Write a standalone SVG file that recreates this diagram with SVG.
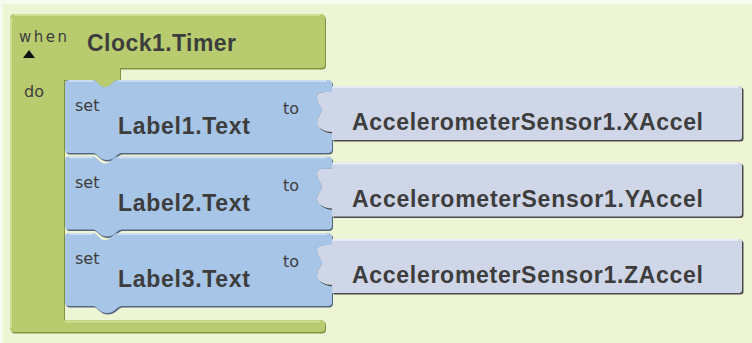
<svg xmlns="http://www.w3.org/2000/svg" xmlns:xlink="http://www.w3.org/1999/xlink" width="752" height="343" viewBox="0 0 752 343">
<style>
.big{font-family:"Liberation Sans",Arial,sans-serif;font-weight:bold;font-size:23px;fill:#3d3d3d}
.small{font-family:"DejaVu Sans","Liberation Sans",sans-serif;font-size:16px;fill:#3d3d3d}
.bluefill{fill:#a7c5e7}
.blueshadow{fill:#54677f}
.grayfill{fill:#ced6e7}
.grayshadow{fill:#4a4a4a}
.hlb{stroke:#d5e4f5;stroke-width:1.5;fill:none}
.hlg{stroke:#eef2f9;stroke-width:1.5;fill:none}
</style>
<defs>
<path id="setShape" d="M4,0 H28 C32,0 34,7 40,7 C46,7 48,0 53,0 H263 Q267,0 267,4 V12 C262,12 252,11 252,17 C252,23 256,25 257,30 C256,35 252,37 252,43 C252,49 262,52 267,52 V69 Q267,73 263,73 H57 C52,73 50,80 42,80 C34,80 32,73 28,73 H4 Q0,73 0,69 V4 Q0,0 4,0 Z"/>
<path id="valShape" d="M0,0 H407 Q410,0 410,3 V51 Q410,54 407,54 H0 V46 C-5,46 -15,43 -15,37 C-15,31 -11,29 -10,24 C-11,19 -15,17 -15,11 C-15,5 -5,6 0,6 Z"/>
<g id="setBlock">
<use xlink:href="#setShape" class="blueshadow" transform="translate(1,1.5)"/>
<use xlink:href="#setShape" class="bluefill"/>
<path class="hlb" d="M4,1 H28 M53,1 H262"/>
</g>
<g id="valBlock">
<use xlink:href="#valShape" class="grayshadow" transform="translate(1.5,1.5)"/>
<use xlink:href="#valShape" class="grayfill"/>
<path class="hlg" d="M1,1 H406"/>
</g>
</defs>
<rect x="0" y="0" width="752" height="343" fill="#eef5d4"/>
<rect x="0" y="0" width="752" height="4" fill="#f7faee"/>
<rect x="0" y="0" width="3" height="343" fill="#f7faee"/>

<g id="event">
<path d="M14,14 H321 Q325,14 325,18 V64 Q325,68 321,68 H120 V80 H118 C113,80 111,87 105,87 C99,87 97,80 93,80 H64 V320 H321 Q325,320 325,324 V328 Q325,332 321,332 H14 Q10,332 10,328 V18 Q10,14 14,14 Z" fill="#7f9442" transform="translate(1,1.5)"/>
<path d="M14,14 H321 Q325,14 325,18 V64 Q325,68 321,68 H120 V80 H118 C113,80 111,87 105,87 C99,87 97,80 93,80 H64 V320 H321 Q325,320 325,324 V328 Q325,332 321,332 H14 Q10,332 10,328 V18 Q10,14 14,14 Z" fill="#b8cc6f"/>
<path d="M14,15 H320 M11,18 V328 M65,321.5 H320" stroke="#d6e4a0" stroke-width="1.5" fill="none"/>
<text class="small" x="19" y="42" style="font-size:15px" textLength="48" lengthAdjust="spacing">when</text>
<polygon points="23,58 29,50 35,58" fill="#111"/>
<text class="big" x="87" y="51" textLength="149" lengthAdjust="spacing">Clock1.Timer</text>
<text class="small" x="24" y="97">do</text>
</g>

<g id="connectors"/>

<g id="set1" transform="translate(65,80)">
<use xlink:href="#setBlock"/>
<text class="small" x="10" y="31">set</text>
<text class="big" x="53" y="54" textLength="132" lengthAdjust="spacing">Label1.Text</text>
<text class="small" x="218" y="34">to</text>
</g>
<g id="val1" transform="translate(332,86)">
<use xlink:href="#valBlock"/>
<text class="big" x="20" y="44" textLength="351" lengthAdjust="spacing">AccelerometerSensor1.XAccel</text>
</g>

<g id="set2" transform="translate(65,156.5)">
<use xlink:href="#setBlock"/>
<text class="small" x="10" y="31">set</text>
<text class="big" x="53" y="54" textLength="132" lengthAdjust="spacing">Label2.Text</text>
<text class="small" x="218" y="34">to</text>
</g>
<g id="val2" transform="translate(332,162.5)">
<use xlink:href="#valBlock"/>
<text class="big" x="20" y="44" textLength="351" lengthAdjust="spacing">AccelerometerSensor1.YAccel</text>
</g>

<g id="set3" transform="translate(65,233)">
<use xlink:href="#setBlock"/>
<text class="small" x="10" y="31">set</text>
<text class="big" x="53" y="54" textLength="132" lengthAdjust="spacing">Label3.Text</text>
<text class="small" x="218" y="34">to</text>
</g>
<g id="val3" transform="translate(332,239)">
<use xlink:href="#valBlock"/>
<text class="big" x="20" y="44" textLength="351" lengthAdjust="spacing">AccelerometerSensor1.ZAccel</text>
</g>
</svg>
